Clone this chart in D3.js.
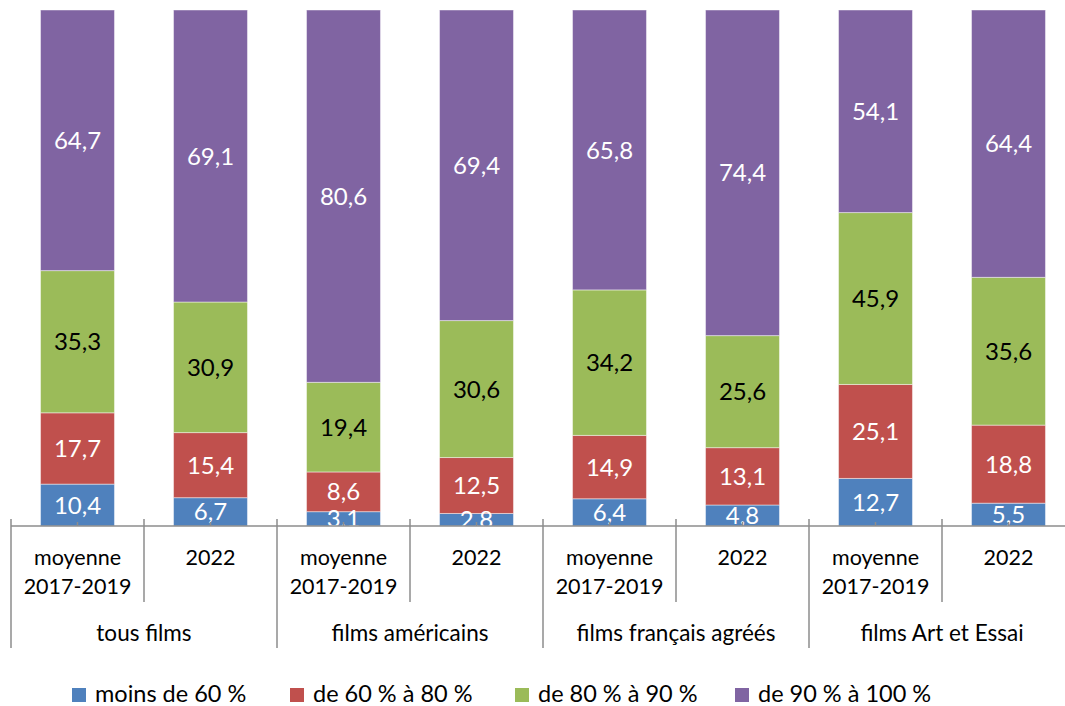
<!DOCTYPE html>
<html>
<head>
<meta charset="utf-8">
<script src="https://cdn.jsdelivr.net/npm/d3@7"></script>
<style>
  body { margin: 0; background: #fff; }
  text { font-family: Lato, "Open Sans", sans-serif; }
</style>
</head>
<body>
<svg id="chart"></svg>
<script>

// bars, left to right
var groups = ["tous films", "films américains", "films français agréés", "films Art et Essai"];
var periods = [["moyenne", "2017-2019"], ["2022"]];

// series (bottom to top)
var seriesNames = ["moins de 60 %", "de 60 % à 80 %", "de 80 % à 90 %", "de 90 % à 100 %"];
var moins60 = [10.4, 6.7, 3.1, 2.8, 6.4, 4.8, 12.7, 5.5];
var de60a80 = [17.7, 15.4, 8.6, 12.5, 14.9, 13.1, 25.1, 18.8];
var de80a90 = [35.3, 30.9, 19.4, 30.6, 34.2, 25.6, 45.9, 35.6];
var de90a100 = [64.7, 69.1, 80.6, 69.4, 65.8, 74.4, 54.1, 64.4];

var colors = ["#4f81bd", "#c0504d", "#9bbb59", "#8064a2"];
var labelColors = ["#fff", "#fff", "#000", "#fff"];

var config = {
  w: 1065,
  h: 706,
  left: 11,
  right: 1075,
  top: 10,
  base: 526
};

// build table for the stack layout
var keys = ["s0", "s1", "s2", "s3"];
var allSeries = [moins60, de60a80, de80a90, de90a100];
var data = [];
groups.forEach(function(g, gi) {
  periods.forEach(function(p, pi) {
    var i = gi * periods.length + pi;
    var row = { id: i, group: g, period: p };
    keys.forEach(function(k, ki) { row[k] = allSeries[ki][i]; });
    data.push(row);
  });
});

var stack = d3.stack()
  .keys(keys)
  .offset(d3.stackOffsetExpand);
var layers = stack(data);

var x = d3.scaleBand()
  .domain(data.map(function(d) { return d.id; }))
  .range([config.left, config.right])
  .paddingInner(0.444)
  .paddingOuter(0.222);

var y = d3.scaleLinear()
  .domain([0, 1])
  .range([config.base, config.top]);

var svg = d3.select("#chart")
  .attr("width", config.w)
  .attr("height", config.h);

svg.append("clipPath")
  .attr("id", "plotclip")
  .append("rect")
    .attr("x", 0)
    .attr("y", config.top)
    .attr("width", config.w)
    .attr("height", config.base - config.top);

// bars
var layer = svg.append("g").selectAll("g")
  .data(layers)
  .enter()
  .append("g")
    .attr("fill", function(d, i) { return colors[i]; });

layer.selectAll("rect")
  .data(function(d) { return d; })
  .enter()
  .append("rect")
    .attr("x", function(d) { return x(d.data.id); })
    .attr("y", function(d) { return y(d[1]); })
    .attr("width", x.bandwidth())
    .attr("height", function(d) { return y(d[0]) - y(d[1]); })
    .attr("stroke", "rgba(255,255,255,0.45)")
    .attr("stroke-width", 1);

// value labels (clipped at the axis like the original)
var labels = svg.append("g").attr("clip-path", "url(#plotclip)");
layers.forEach(function(l, li) {
  labels.selectAll(null)
    .data(l)
    .enter()
    .append("text")
      .attr("x", function(d) { return x(d.data.id) + x.bandwidth() / 2; })
      .attr("y", function(d) { return (y(d[0]) + y(d[1])) / 2; })
      .attr("dy", "0.36em")
      .attr("text-anchor", "middle")
      .attr("fill", labelColors[li])
      .style("font-size", "24px")
      .text(function(d) { return d3.format(".1f")(d.data[keys[li]]).replace(".", ","); });
});

// category axis
var axis = svg.append("g")
  .attr("stroke", "#8c8c8c")
  .attr("stroke-width", 1.5);

axis.append("line")
  .attr("x1", config.left).attr("x2", config.right)
  .attr("y1", config.base).attr("y2", config.base);

// little ticks at bar centres
axis.selectAll(null)
  .data(data)
  .enter()
  .append("line")
    .attr("x1", function(d) { return x(d.id) + x.bandwidth() / 2; })
    .attr("x2", function(d) { return x(d.id) + x.bandwidth() / 2; })
    .attr("y1", config.base - 4)
    .attr("y2", config.base);

var groupW = x.step() * periods.length;

// group separators
axis.selectAll(null)
  .data(d3.range(groups.length + 1))
  .enter()
  .append("line")
    .attr("x1", function(i) { return config.left + i * groupW; })
    .attr("x2", function(i) { return config.left + i * groupW; })
    .attr("y1", config.base - 7)
    .attr("y2", 648);

// separators between the two periods
axis.selectAll(null)
  .data(d3.range(groups.length))
  .enter()
  .append("line")
    .attr("x1", function(i) { return config.left + i * groupW + x.step(); })
    .attr("x2", function(i) { return config.left + i * groupW + x.step(); })
    .attr("y1", config.base - 7)
    .attr("y2", 602);

// period labels
var plab = svg.append("g")
  .selectAll("text")
  .data(data)
  .enter()
  .append("text")
    .attr("text-anchor", "middle")
    .attr("fill", "#000")
    .style("font-size", "21.5px");

plab.selectAll("tspan")
  .data(function(d) { return d.period.map(function(t) { return { t: t, x: x(d.id) + x.bandwidth() / 2 }; }); })
  .enter()
  .append("tspan")
    .attr("x", function(d) { return d.x; })
    .attr("y", function(d, i) { return 565 + i * 29; })
    .text(function(d) { return d.t; });

// group labels
svg.append("g")
  .selectAll("text")
  .data(groups)
  .enter()
  .append("text")
    .attr("x", function(d, i) { return config.left + i * groupW + groupW / 2; })
    .attr("y", 641)
    .attr("text-anchor", "middle")
    .attr("fill", "#000")
    .style("font-size", "22.5px")
    .text(function(d) { return d; });

// legend
var legendX = [72, 290, 515, 735];
var legend = svg.append("g")
  .selectAll("g")
  .data(seriesNames)
  .enter()
  .append("g")
    .attr("transform", function(d, i) { return "translate(" + legendX[i] + ",688)"; });

legend.append("rect")
  .attr("width", 14)
  .attr("height", 14)
  .attr("fill", function(d, i) { return colors[i]; });

legend.append("text")
  .attr("x", 23)
  .attr("y", 14)
  .attr("fill", "#000")
  .style("font-size", "23.5px")
  .text(function(d) { return d; });

</script>
</body>
</html>
